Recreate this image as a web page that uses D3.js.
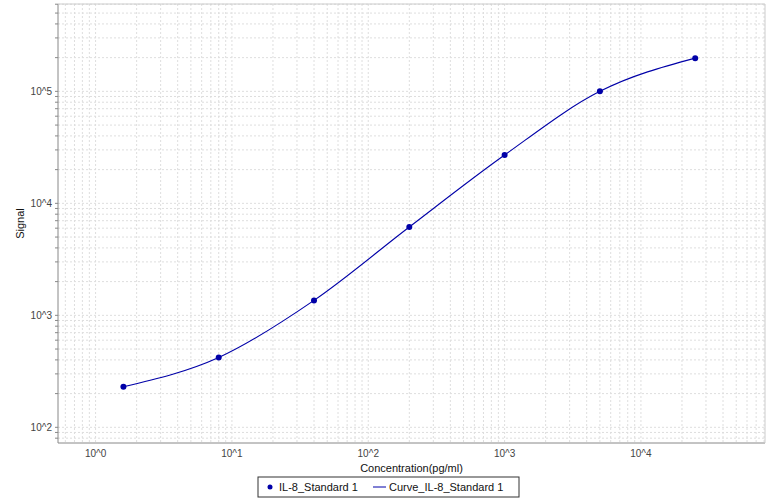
<!DOCTYPE html>
<html><head><meta charset="utf-8">
<script src="https://cdn.jsdelivr.net/npm/d3@7"></script>
<style>body{margin:0;background:#fff}svg{font-family:"Liberation Sans",Arial,sans-serif}</style>
</head><body><svg id="c" width="771" height="501"></svg>
<script>
const concentrations=[1.6,8,40,200,1000,5000,25000];
const signals=[230,420,1360,6150,27000,100000,198000];
const xTickLabels=["10^0","10^1","10^2","10^3","10^4"];
const yTickLabels=["10^2","10^3","10^4","10^5"];
const seriesName="IL-8_Standard 1", curveName="Curve_IL-8_Standard 1";
const col="#0000a8";

const svg=d3.select("#c");
const L=58,R=765,T=4,B=443;
const x=d3.scaleLog().domain([0.53,10**4.91]).range([L,R]);
const y=d3.scaleLog().domain([10**1.86,10**5.78]).range([B,T]);

const minorX=[],minorY=[];
for(let e=-1;e<=5;e++)for(let m=1;m<10;m++){const v=m*10**e;
 if(v>=x.domain()[0]&&v<=x.domain()[1])minorX.push(v);
 if(v>=y.domain()[0]&&v<=y.domain()[1])minorY.push(v);}
const g=svg.append("g");
g.selectAll(".gx").data(minorX).enter().append("line").attr("x1",d=>x(d)).attr("x2",d=>x(d)).attr("y1",T).attr("y2",B)
 .attr("stroke","#dedede").attr("stroke-dasharray","2,2");
g.selectAll(".gy").data(minorY).enter().append("line").attr("y1",d=>y(d)).attr("y2",d=>y(d)).attr("x1",L).attr("x2",R)
 .attr("stroke","#dedede").attr("stroke-dasharray","2,2");

svg.append("line").attr("x1",L).attr("x2",L).attr("y1",T).attr("y2",B).attr("stroke","#888");
svg.append("line").attr("x1",L).attr("x2",R).attr("y1",B).attr("y2",B).attr("stroke","#888");
svg.append("line").attr("x1",L).attr("x2",R).attr("y1",T).attr("y2",T).attr("stroke","#ccc");
svg.append("line").attr("x1",R).attr("x2",R).attr("y1",T).attr("y2",B).attr("stroke","#ccc");
svg.selectAll(".yt").data(minorY).enter().append("line").attr("x1",L-3).attr("x2",L).attr("y1",d=>y(d)).attr("y2",d=>y(d)).attr("stroke","#888");

svg.selectAll(".xl").data(xTickLabels).enter().append("text").attr("x",(d,i)=>x(10**i)).attr("y",B+14)
 .attr("text-anchor","middle").attr("font-size",10).attr("fill","#444").text(d=>d);
svg.selectAll(".yl").data(yTickLabels).enter().append("text").attr("x",L-6).attr("y",(d,i)=>y(10**(i+2))+4)
 .attr("text-anchor","end").attr("font-size",10).attr("fill","#444").text(d=>d);
svg.append("text").attr("x",(L+R)/2).attr("y",B+29).attr("text-anchor","middle").attr("font-size",11).attr("fill","#111").text("Concentration(pg/ml)");
svg.append("text").attr("transform",`translate(24,${(T+B)/2}) rotate(-90)`).attr("text-anchor","middle").attr("font-size",11).attr("fill","#111").text("Signal");

const pts=concentrations.map((c,i)=>[c,signals[i]]);
svg.append("path").datum(pts).attr("fill","none").attr("stroke",col).attr("stroke-width",1.1)
 .attr("d",d3.line().x(d=>x(d[0])).y(d=>y(d[1])).curve(d3.curveMonotoneX));
svg.selectAll(".p").data(pts).enter().append("circle").attr("cx",d=>x(d[0])).attr("cy",d=>y(d[1])).attr("r",3).attr("fill",col);

const lg=svg.append("g");
lg.append("rect").attr("x",258).attr("y",477).attr("width",261).attr("height",20).attr("fill","#fff").attr("stroke","#333");
lg.append("circle").attr("cx",270).attr("cy",487).attr("r",2.5).attr("fill",col);
lg.append("text").attr("x",279).attr("y",491).attr("font-size",11).attr("fill","#111").text(seriesName);
lg.append("line").attr("x1",373).attr("x2",386).attr("y1",487).attr("y2",487).attr("stroke",col);
lg.append("text").attr("x",389).attr("y",491).attr("font-size",11).attr("fill","#111").text(curveName);
</script></body></html>
